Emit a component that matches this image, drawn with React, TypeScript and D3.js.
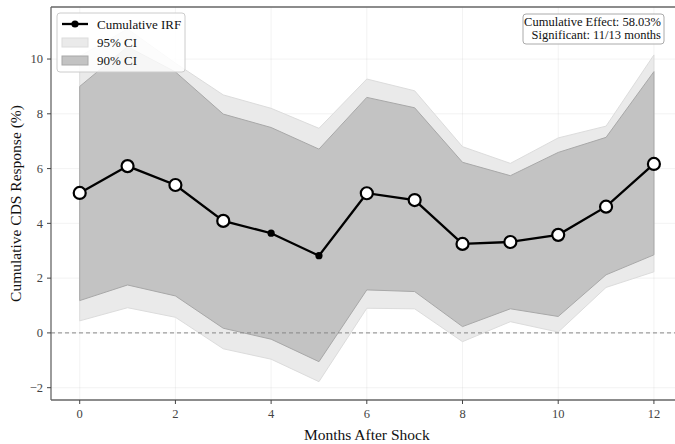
import React, { useEffect, useRef } from 'react';
import * as d3 from 'd3';

const months = [0, 1, 2, 3, 4, 5, 6, 7, 8, 9, 10, 11, 12];
const irf = [5.11, 6.09, 5.4, 4.09, 3.64, 2.82, 5.1, 4.85, 3.25, 3.32, 3.58, 4.61, 6.17];
const upper95 = [10.1, 11.1, 9.85, 8.69, 8.2, 7.47, 9.27, 8.84, 6.8, 6.19, 7.12, 7.55, 10.15];
const lower95 = [0.44, 0.92, 0.57, -0.58, -0.96, -1.78, 0.9, 0.88, -0.32, 0.41, 0.03, 1.66, 2.23];
const upper90 = [9.0, 10.45, 9.53, 7.99, 7.5, 6.71, 8.6, 8.22, 6.23, 5.74, 6.59, 7.14, 9.54];
const lower90 = [1.18, 1.75, 1.35, 0.17, -0.23, -1.05, 1.57, 1.51, 0.23, 0.88, 0.6, 2.12, 2.85];
const significant = [true, true, true, true, false, false, true, true, true, true, true, true, true];
const xTicks = [0, 2, 4, 6, 8, 10, 12];
const yTicks = [-2, 0, 2, 4, 6, 8, 10];

const FONT = '"Liberation Serif", "DejaVu Serif", serif';

export default function App() {
  const svgRef = useRef<SVGSVGElement>(null);

  useEffect(() => {
    document.body.style.margin = '0';
    const svg = d3.select(svgRef.current);
    svg.selectAll('*').remove();

    const left = 51, top = 7, bottom = 400;
    const x = d3.scaleLinear().domain([-0.6, 12.6]).range([left, left + 13.2 * 47.85]);
    const y = d3.scaleLinear().domain([-2.45, 11.9]).range([bottom, top]);
    const right = x(12.6);

    const rows = months.map((m, i) => ({
      m, v: irf[i], u95: upper95[i], l95: lower95[i], u90: upper90[i], l90: lower90[i], sig: significant[i],
    }));

    svg.append('defs').append('clipPath').attr('id', 'plotclip')
      .append('rect').attr('x', left).attr('y', top).attr('width', right - left).attr('height', bottom - top);

    const g = svg.append('g').attr('clip-path', 'url(#plotclip)');

    // grid
    g.selectAll('line.gx').data(xTicks).enter().append('line')
      .attr('x1', d => x(d)).attr('x2', d => x(d)).attr('y1', top).attr('y2', bottom)
      .attr('stroke', '#b0b0b0').attr('stroke-opacity', 0.2).attr('stroke-width', 0.8);
    g.selectAll('line.gy').data(yTicks).enter().append('line')
      .attr('x1', left).attr('x2', right).attr('y1', d => y(d)).attr('y2', d => y(d))
      .attr('stroke', '#b0b0b0').attr('stroke-opacity', 0.2).attr('stroke-width', 0.8);

    const area95 = d3.area<any>().x(d => x(d.m)).y0(d => y(d.l95)).y1(d => y(d.u95));
    const area90 = d3.area<any>().x(d => x(d.m)).y0(d => y(d.l90)).y1(d => y(d.u90));
    g.append('path').datum(rows).attr('d', area95)
      .attr('fill', '#eaeaea').attr('stroke', '#dcdcdc').attr('stroke-width', 1);
    g.append('path').datum(rows).attr('d', area90)
      .attr('fill', '#c3c3c3').attr('stroke', '#a8a8a8').attr('stroke-width', 1);

    // zero line
    g.append('line').attr('x1', left).attr('x2', right).attr('y1', y(0)).attr('y2', y(0))
      .attr('stroke', '#888').attr('stroke-width', 1).attr('stroke-dasharray', '4,3');

    const line = d3.line<any>().x(d => x(d.m)).y(d => y(d.v));
    g.append('path').datum(rows).attr('d', line)
      .attr('fill', 'none').attr('stroke', '#000').attr('stroke-width', 2.3);

    g.selectAll('circle.pt').data(rows).enter().append('circle')
      .attr('cx', d => x(d.m)).attr('cy', d => y(d.v))
      .attr('r', d => d.sig ? 6 : 3.6)
      .attr('fill', d => d.sig ? '#fff' : '#000')
      .attr('stroke', '#000').attr('stroke-width', d => d.sig ? 2.2 : 0);

    // spines
    svg.append('line').attr('x1', left).attr('x2', left).attr('y1', top).attr('y2', bottom)
      .attr('stroke', '#666').attr('stroke-width', 1.3);
    svg.append('line').attr('x1', left).attr('x2', right).attr('y1', bottom).attr('y2', bottom)
      .attr('stroke', '#666').attr('stroke-width', 1.3);
    svg.append('line').attr('x1', left).attr('x2', right).attr('y1', top).attr('y2', top)
      .attr('stroke', '#666').attr('stroke-width', 1.3);
    svg.append('line').attr('x1', right).attr('x2', right).attr('y1', top).attr('y2', bottom)
      .attr('stroke', '#666').attr('stroke-width', 1.3);

    // ticks
    xTicks.forEach(t => {
      svg.append('line').attr('x1', x(t)).attr('x2', x(t)).attr('y1', bottom).attr('y2', bottom + 4)
        .attr('stroke', '#444').attr('stroke-width', 1);
      svg.append('text').attr('x', x(t)).attr('y', bottom + 18).attr('text-anchor', 'middle')
        .attr('font-family', FONT).attr('font-size', 12.5).attr('fill', '#444').text(d3.format('d')(t));
    });
    yTicks.forEach(t => {
      svg.append('line').attr('x1', left - 4).attr('x2', left).attr('y1', y(t)).attr('y2', y(t))
        .attr('stroke', '#444').attr('stroke-width', 1);
      svg.append('text').attr('x', left - 8).attr('y', y(t) + 4.3).attr('text-anchor', 'end')
        .attr('font-family', FONT).attr('font-size', 12.5).attr('fill', '#444')
        .text(t < 0 ? '\u2212' + Math.abs(t) : String(t));
    });

    // axis labels
    svg.append('text').attr('x', (left + right) / 2).attr('y', 440).attr('text-anchor', 'middle')
      .attr('font-family', FONT).attr('font-size', 15.5).attr('fill', '#111').text('Months After Shock');
    svg.append('text').attr('transform', `translate(21,${(top + bottom) / 2}) rotate(-90)`)
      .attr('text-anchor', 'middle')
      .attr('font-family', FONT).attr('font-size', 15.5).attr('fill', '#111').text('Cumulative CDS Response (%)');

    // Legend
    const lg = svg.append('g').attr('transform', 'translate(57,13)');
    lg.append('rect').attr('width', 128).attr('height', 59).attr('rx', 3)
      .attr('fill', '#fff').attr('fill-opacity', 0.85).attr('stroke', '#ccc').attr('stroke-width', 1);
    lg.append('line').attr('x1', 5).attr('x2', 31).attr('y1', 11).attr('y2', 11)
      .attr('stroke', '#000').attr('stroke-width', 2.3);
    lg.append('circle').attr('cx', 18).attr('cy', 11).attr('r', 3.6).attr('fill', '#000');
    lg.append('rect').attr('x', 5).attr('y', 25).attr('width', 26).attr('height', 9)
      .attr('fill', '#eaeaea').attr('stroke', '#dcdcdc');
    lg.append('rect').attr('x', 5).attr('y', 43).attr('width', 26).attr('height', 9)
      .attr('fill', '#c3c3c3').attr('stroke', '#a8a8a8');
    ['Cumulative IRF', '95% CI', '90% CI'].forEach((s, i) => {
      lg.append('text').attr('x', 40).attr('y', 15.5 + i * 18)
        .attr('font-family', FONT).attr('font-size', 13).attr('fill', '#111').text(s);
    });

    // annotation
    const an = svg.append('g');
    an.append('rect').attr('x', 523).attr('y', 14).attr('width', 141).attr('height', 30).attr('rx', 3)
      .attr('fill', '#fff').attr('fill-opacity', 0.85).attr('stroke', '#aaa').attr('stroke-width', 1);
    const total = d3.sum(irf);
    const nsig = significant.filter(Boolean).length;
    [`Cumulative Effect: ${total.toFixed(2)}%`, `Significant: ${nsig}/${months.length} months`].forEach((s, i) => {
      an.append('text').attr('x', 661).attr('y', 26 + i * 13).attr('text-anchor', 'end')
        .attr('font-family', FONT).attr('font-size', 12.5).attr('fill', '#111').text(s);
    });
  }, []);

  return <svg ref={svgRef} width={675} height={444} style={{ display: 'block' }} />;
}
